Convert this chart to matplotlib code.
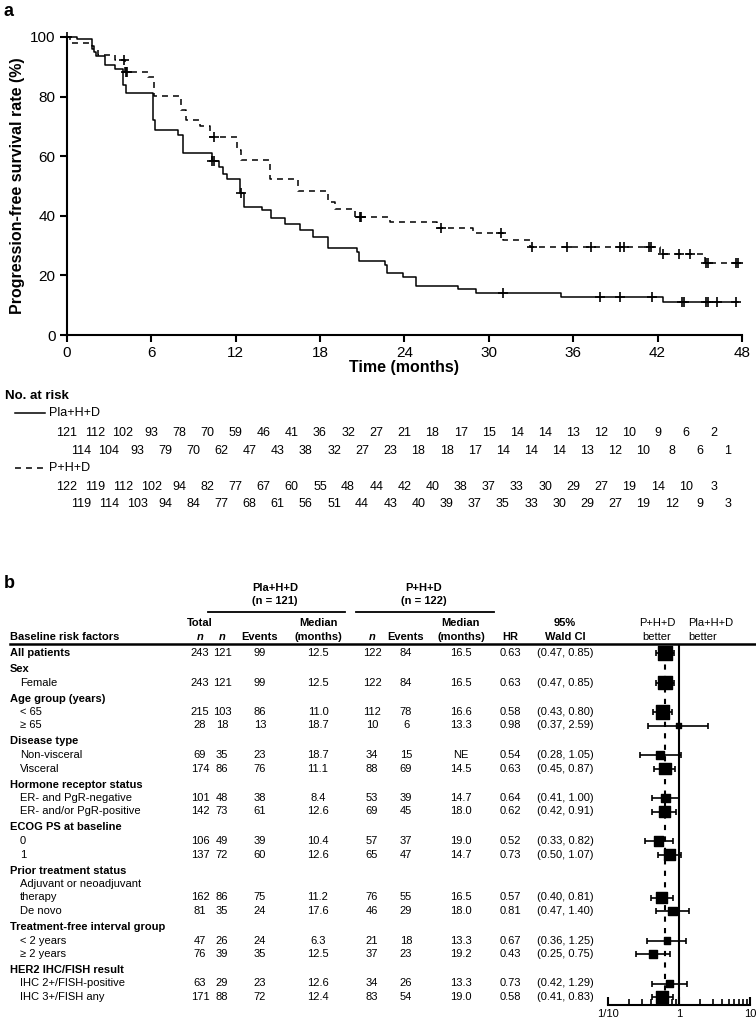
import numpy as np
import matplotlib
matplotlib.use('Agg')
import matplotlib.pyplot as plt
from matplotlib import transforms, ticker

plt.rcParams['font.family'] = ['Liberation Sans', 'DejaVu Sans']

W, H = 756, 1025

# ---- panel a: Kaplan-Meier step data ----
pla_t = [0, 0.7, 1.8, 1.95, 2.1, 2.7, 3.4, 4.0, 4.2, 6.1, 6.3, 7.9, 8.3, 10.3, 10.8,
         11.1, 11.4, 12.35, 12.6, 13.85, 14.55, 15.5, 16.55, 17.5, 18.6, 20.6, 20.8,
         22.6, 22.75, 23.9, 24.85, 27.8, 29.1, 35.15, 42.4]
pla_s = [100, 99.2, 97, 95, 93.5, 90.6, 89.1, 84, 81.1, 72, 68.8, 67.1, 61.0, 58.3, 56.4,
         54.1, 52.5, 47.5, 43.0, 41.9, 39.1, 37.4, 35.2, 33.0, 29.3, 27.9, 24.8,
         23.5, 20.9, 19.5, 16.5, 15.4, 14.0, 12.9, 11.2]
pla_end = 47.7
pla_cens = [0.05, 10.35, 10.45, 12.4, 31.0, 37.9, 39.3, 41.6, 43.7, 43.85, 45.45, 45.55,
            46.2, 47.6]

p_t = [0, 0.25, 1.8, 2.2, 3.4, 4.15, 5.8, 6.2, 8.15, 8.5, 9.5, 10.2, 12.1, 12.4, 14.45,
       16.45, 18.6, 19.05, 20.5, 22.95, 26.3, 28.9, 31.0, 32.95, 42.2, 45.4]
p_s = [100, 98, 96, 93.8, 92.2, 88.4, 86.7, 80.2, 75.5, 72, 70.2, 66.6, 62, 58.8, 52.5,
       48.3, 44.7, 42.2, 39.5, 37.9, 35.9, 34.2, 31.9, 29.6, 27.2, 24.0]
p_end = 47.8
p_cens = [4.05, 4.25, 4.32, 10.45, 20.85, 20.95, 26.6, 30.9, 33.1, 35.55, 37.3, 39.3,
          39.6, 41.4, 41.5, 42.35, 43.55, 44.3, 45.45, 45.55, 47.6, 47.7]

risk_pla_a = [121, 112, 102, 93, 78, 70, 59, 46, 41, 36, 32, 27, 21, 18, 17, 15, 14, 14,
              13, 12, 10, 9, 6, 2]
risk_pla_b = [114, 104, 93, 79, 70, 62, 47, 43, 38, 32, 27, 23, 18, 18, 17, 14, 14, 14,
              13, 12, 10, 8, 6, 1]
risk_p_a = [122, 119, 112, 102, 94, 82, 77, 67, 60, 55, 48, 44, 42, 40, 38, 37, 33, 30,
            29, 27, 19, 14, 10, 3]
risk_p_b = [119, 114, 103, 94, 84, 77, 68, 61, 56, 51, 44, 43, 40, 39, 37, 35, 33, 30,
            29, 27, 19, 12, 9, 3]
risk_months_a = list(range(0, 48, 2))
risk_months_b = list(range(1, 48, 2))

# ---- panel b: subgroup table ----
row_labels = ['All patients', 'Sex', 'Female', 'Age group (years)', '< 65', '≥ 65',
              'Disease type', 'Non-visceral', 'Visceral', 'Hormone receptor status',
              'ER- and PgR-negative', 'ER- and/or PgR-positive', 'ECOG PS at baseline',
              '0', '1', 'Prior treatment status', 'Adjuvant or neoadjuvant', 'therapy',
              'De novo', 'Treatment-free interval group', '< 2 years', '≥ 2 years',
              'HER2 IHC/FISH result', 'IHC 2+/FISH-positive', 'IHC 3+/FISH any']
row_kinds = ['main', 'group', 'sub', 'group', 'sub', 'sub', 'group', 'sub', 'sub', 'group',
             'sub', 'sub', 'group', 'sub', 'sub', 'group', 'wrap', 'sub', 'sub', 'group',
             'sub', 'sub', 'group', 'sub', 'sub']

total_n = [243, 243, 215, 28, 69, 174, 101, 142, 106, 137, 162, 81, 47, 76, 63, 171]
pla_n = [121, 121, 103, 18, 35, 86, 48, 73, 49, 72, 86, 35, 26, 39, 29, 88]
pla_ev = [99, 99, 86, 13, 23, 76, 38, 61, 39, 60, 75, 24, 24, 35, 23, 72]
pla_med = ['12.5', '12.5', '11.0', '18.7', '18.7', '11.1', '8.4', '12.6', '10.4', '12.6',
           '11.2', '17.6', '6.3', '12.5', '12.6', '12.4']
p_n = [122, 122, 112, 10, 34, 88, 53, 69, 57, 65, 76, 46, 21, 37, 34, 83]
p_ev = [84, 84, 78, 6, 15, 69, 39, 45, 37, 47, 55, 29, 18, 23, 26, 54]
p_med = ['16.5', '16.5', '16.6', '13.3', 'NE', '14.5', '14.7', '18.0', '19.0', '14.7',
         '16.5', '18.0', '13.3', '19.2', '13.3', '19.0']
hr = [0.63, 0.63, 0.58, 0.98, 0.54, 0.63, 0.64, 0.62, 0.52, 0.73, 0.57, 0.81, 0.67, 0.43,
      0.73, 0.58]
ci_lo = [0.47, 0.47, 0.43, 0.37, 0.28, 0.45, 0.41, 0.42, 0.33, 0.50, 0.40, 0.47, 0.36, 0.25,
         0.42, 0.41]
ci_hi = [0.85, 0.85, 0.80, 2.59, 1.05, 0.87, 1.00, 0.91, 0.82, 1.07, 0.81, 1.40, 1.25, 0.75,
         1.29, 0.83]


def fig_box(x0, y0, x1, y1):
    # pixel box with top-left origin -> figure fraction rect
    return [x0 / W, 1 - y1 / H, (x1 - x0) / W, (y1 - y0) / H]


def surv_at(times, surv, t):
    return surv[np.searchsorted(times, t, side='right') - 1]


fig = plt.figure(figsize=(W / 100, H / 100), dpi=100)

# full-figure axes in pixel units for all free text
ax_t = fig.add_axes([0, 0, 1, 1])
ax_t.set_xlim(0, W)
ax_t.set_ylim(H, 0)
ax_t.axis('off')
ax_t.patch.set_visible(False)

# ---------------- panel a ----------------
ax1 = fig.add_axes(fig_box(66.7, 37, 742, 335))
ax1.step(pla_t + [pla_end], pla_s + [pla_s[-1]], where='post', color='k', lw=1.1,
         clip_on=False)
ax1.step(p_t + [p_end], p_s + [p_s[-1]], where='post', color='k', lw=1.1,
         ls=(0, (3.9, 3.3)), clip_on=False)
ax1.plot(pla_cens, [surv_at(pla_t, pla_s, c) for c in pla_cens], '+', color='k',
         ms=7, mew=1.2, clip_on=False)
ax1.plot(p_cens, [surv_at(p_t, p_s, c) for c in p_cens], '+', color='k',
         ms=7, mew=1.2, clip_on=False)

ax1.set_xlim(0, 48)
ax1.set_ylim(0, 100)
ax1.set_xticks(range(0, 49, 6))
ax1.set_yticks(range(0, 101, 20))
for s in ['top', 'right']:
    ax1.spines[s].set_visible(False)
for s in ['left', 'bottom']:
    ax1.spines[s].set_linewidth(1.5)
ax1.tick_params(direction='out', length=5, width=1.5, labelsize=11, pad=3)
ax1.set_xlabel('Time (months)', fontsize=11.5, fontweight='bold', labelpad=0)
ax1.set_ylabel('Progression-free survival rate (%)', fontsize=11.5, fontweight='bold',
               labelpad=4)

ax_t.text(4, 12, 'a', fontsize=13, fontweight='bold', va='center')
ann = 8.8
ax_t.text(76, 290, 'HR 0.60 (95% CI 0.45, 0.81)', fontsize=ann, va='center')
ax_t.text(76, 303, 'Median PFS: 12.5 months (95% CI 10.4, 14.6) (Pla) vs.', fontsize=ann,
          va='center')
ax_t.text(76, 316, '16.5 months (95% CI 12.7, 20.2) (P)', fontsize=ann, va='center')
ax_t.text(742, 218, 'No. of PFS events in', fontsize=ann, va='center', ha='right')
ax_t.text(742, 232, 'the P arm: 84 (68.9%)', fontsize=ann, va='center', ha='right')
ax_t.text(742, 318, 'No. of PFS events in the Pla arm: 99 (81.8%)', fontsize=ann,
          va='center', ha='right')

# number at risk
rk = 9
tr = transforms.blended_transform_factory(ax1.transData, ax_t.transData)
ax_t.text(5, 396, 'No. at risk', fontsize=9.5, fontweight='bold', va='center')
ax_t.plot([15, 45], [413, 413], color='k', lw=1.1)
ax_t.text(49, 413, 'Pla+H+D', fontsize=rk, va='center')
ax_t.plot([15, 45], [468, 468], color='k', lw=1.1, ls=(0, (3.9, 3.3)))
ax_t.text(49, 468, 'P+H+D', fontsize=rk, va='center')
for months, vals, y in [(risk_months_a, risk_pla_a, 433), (risk_months_b, risk_pla_b, 451),
                        (risk_months_a, risk_p_a, 487), (risk_months_b, risk_p_b, 504)]:
    for m, v in zip(months, vals):
        ax_t.text(m, y, str(v), transform=tr, fontsize=rk, ha='center', va='center')

# ---------------- panel b ----------------
ax_t.text(4, 584, 'b', fontsize=13, fontweight='bold', va='center')

col_total, col_pn, col_pev, col_pmed = 200, 222, 260, 318
col_qn, col_qev, col_qmed, col_hr, col_ci = 372, 406, 461, 510, 565
fs = 8

ax_t.text(275, 588, 'Pla+H+D', fontsize=fs, fontweight='bold', ha='center', va='center')
ax_t.text(275, 601, '(n = 121)', fontsize=fs, fontweight='bold', ha='center', va='center')
ax_t.plot([208, 345], [612, 612], color='k', lw=1.3)
ax_t.text(424, 588, 'P+H+D', fontsize=fs, fontweight='bold', ha='center', va='center')
ax_t.text(424, 601, '(n = 122)', fontsize=fs, fontweight='bold', ha='center', va='center')
ax_t.plot([356, 494], [612, 612], color='k', lw=1.3)

hy1, hy2 = 623, 637
ax_t.text(10, hy2, 'Baseline risk factors', fontsize=fs, fontweight='bold', va='center')
ax_t.text(col_total, hy1, 'Total', fontsize=fs, fontweight='bold', ha='center', va='center')
for x in [col_total, col_pn, col_qn]:
    ax_t.text(x, hy2, 'n', fontsize=fs, fontweight='bold', style='italic', ha='center',
              va='center')
for x in [col_pev, col_qev]:
    ax_t.text(x, hy2, 'Events', fontsize=fs, fontweight='bold', ha='center', va='center')
for x in [col_pmed, col_qmed]:
    ax_t.text(x, hy1, 'Median', fontsize=fs, fontweight='bold', ha='center', va='center')
    ax_t.text(x, hy2, '(months)', fontsize=fs, fontweight='bold', ha='center', va='center')
ax_t.text(col_hr, hy2, 'HR', fontsize=fs, fontweight='bold', ha='center', va='center')
ax_t.text(col_ci, hy1, '95%', fontsize=fs, fontweight='bold', ha='center', va='center')
ax_t.text(col_ci, hy2, 'Wald CI', fontsize=fs, fontweight='bold', ha='center', va='center')
ax_t.text(657, hy1, 'P+H+D', fontsize=fs, ha='center', va='center')
ax_t.text(657, hy2, 'better', fontsize=fs, ha='center', va='center')
ax_t.text(688, hy1, 'Pla+H+D', fontsize=fs, ha='left', va='center')
ax_t.text(688, hy2, 'better', fontsize=fs, ha='left', va='center')
ax_t.plot([10, 756], [644, 644], color='k', lw=1.8)

# row layout
row_y = []
y = 653
for i, kind in enumerate(row_kinds):
    if i > 0:
        y += 16 if kind == 'group' else 13.5
    row_y.append(y)

data_y = []
for label, kind, y in zip(row_labels, row_kinds, row_y):
    bold = kind in ('main', 'group')
    ax_t.text(10 if bold else 20, y, label, fontsize=fs,
              fontweight='bold' if bold else 'normal', va='center')
    if kind in ('main', 'sub'):
        data_y.append(y)

for k, y in enumerate(data_y):
    cells = [(col_total, total_n[k]), (col_pn, pla_n[k]), (col_pev, pla_ev[k]),
             (col_pmed, pla_med[k]), (col_qn, p_n[k]), (col_qev, p_ev[k]),
             (col_qmed, p_med[k]), (col_hr, '%.2f' % hr[k]),
             (col_ci, '(%.2f, %.2f)' % (ci_lo[k], ci_hi[k]))]
    for x, v in cells:
        ax_t.text(x, y, str(v), fontsize=fs, ha='center', va='center')

# forest plot
ax2 = fig.add_axes(fig_box(608, 644, 750, 1005))
ax2.patch.set_visible(False)
ax2.set_xscale('log')
ax2.set_xlim(0.1, 10)
ax2.set_ylim(1005, 644)
hr_a = np.array(hr)
ax2.axvline(1, color='k', lw=1.5)
ax2.plot([hr[0], hr[0]], [data_y[0], 1003], color='k', lw=1.5, ls=(0, (2.5, 3)))
ax2.errorbar(hr_a, data_y, xerr=[hr_a - np.array(ci_lo), np.array(ci_hi) - hr_a],
             fmt='none', ecolor='k', elinewidth=1.2, capsize=2.5, capthick=1.2,
             clip_on=False)
ax2.scatter(hr_a, data_y, marker='s', s=100 * np.array(total_n) / 243, color='k',
            zorder=3, clip_on=False)
for s in ['top', 'right', 'left']:
    ax2.spines[s].set_visible(False)
ax2.spines['bottom'].set_linewidth(1.5)
ax2.set_yticks([])
ax2.set_xticks([0.1, 1, 10])
ax2.set_xticklabels(['1/10', '1', '10'])
ax2.xaxis.set_minor_locator(ticker.LogLocator(base=10, subs=np.arange(2, 10)))
ax2.xaxis.set_minor_formatter(ticker.NullFormatter())
ax2.tick_params(axis='x', which='major', direction='in', length=6, width=1.5,
                labelsize=8, pad=3)
ax2.tick_params(axis='x', which='minor', direction='in', length=4, width=1.2)

fig.savefig('out.png', dpi=100)
